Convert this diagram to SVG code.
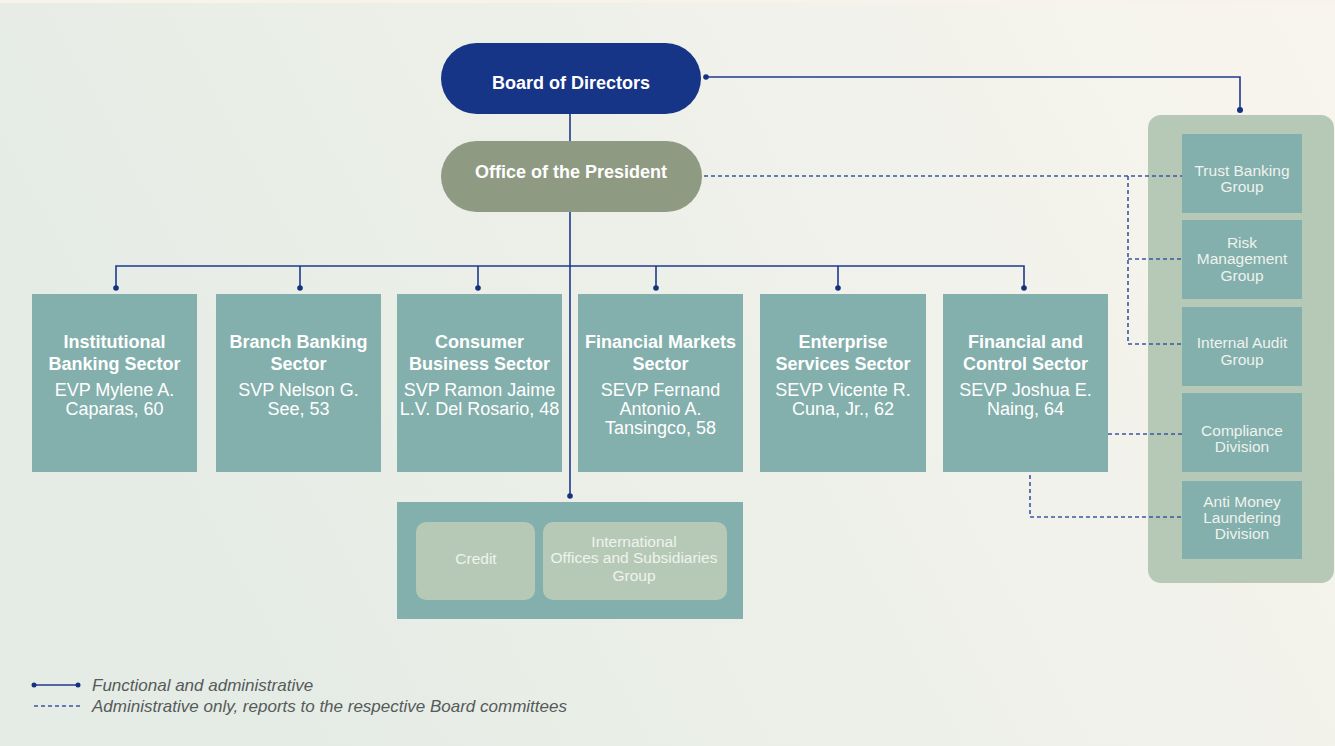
<svg xmlns="http://www.w3.org/2000/svg" width="1335" height="746" viewBox="0 0 1335 746">
<defs>
<linearGradient id="bg" x1="0" y1="0.3" x2="1" y2="0">
<stop offset="0" stop-color="#e5ece5"/>
<stop offset="0.55" stop-color="#eff1ea"/>
<stop offset="1" stop-color="#f8f5ee"/>
</linearGradient>
<style>
.sec{fill:#83afac}
.pan{fill:#b6c9b7}
.t{font-family:"Liberation Sans",Arial,sans-serif;fill:#ffffff;text-anchor:middle}
.b{font-weight:bold;font-size:18px}
.r{font-size:18px}
.s{font-size:15.5px;fill:#eef3ee}
.sol{fill:none;stroke:#1f3a8c;stroke-width:1.6}
.dsh{fill:none;stroke:#3b56a4;stroke-width:1.6;stroke-dasharray:4 3}
.dot{fill:#16327f}
.leg{font-family:"Liberation Sans",Arial,sans-serif;font-style:italic;font-size:17px;fill:#555a5a}
</style>
</defs>
<rect width="1335" height="746" fill="url(#bg)"/>
<rect x="0" y="0" width="1335" height="3" fill="#f7f3ea"/>

<g id="board">
<rect x="441" y="43" width="260" height="71" rx="35.5" fill="#163587"/>
<text class="t" x="571" y="88.5" font-weight="bold" font-size="18">Board of Directors</text>
</g>
<g id="president">
<rect x="441" y="141" width="261" height="71" rx="35.5" fill="#8f9a83"/>
<text class="t" x="571" y="178" font-weight="bold" font-size="18">Office of the President</text>
</g>

<g id="institutional">
<rect class="sec" x="32" y="294" width="165" height="178"/>
<text class="t b" x="114.5" y="348">Institutional</text>
<text class="t b" x="114.5" y="370">Banking Sector</text>
<text class="t r" x="114.5" y="396">EVP Mylene A.</text>
<text class="t r" x="114.5" y="415">Caparas, 60</text>
</g>
<g id="branch">
<rect class="sec" x="216" y="294" width="165" height="178"/>
<text class="t b" x="298.5" y="348">Branch Banking</text>
<text class="t b" x="298.5" y="370">Sector</text>
<text class="t r" x="298.5" y="396">SVP Nelson G.</text>
<text class="t r" x="298.5" y="415">See, 53</text>
</g>
<g id="consumer">
<rect class="sec" x="397" y="294" width="165" height="178"/>
<text class="t b" x="479.5" y="348">Consumer</text>
<text class="t b" x="479.5" y="370">Business Sector</text>
<text class="t r" x="479.5" y="396">SVP Ramon Jaime</text>
<text class="t r" x="479.5" y="415">L.V. Del Rosario, 48</text>
</g>
<g id="markets">
<rect class="sec" x="578" y="294" width="165" height="178"/>
<text class="t b" x="660.5" y="348">Financial Markets</text>
<text class="t b" x="660.5" y="370">Sector</text>
<text class="t r" x="660.5" y="396">SEVP Fernand</text>
<text class="t r" x="660.5" y="415">Antonio A.</text>
<text class="t r" x="660.5" y="434">Tansingco, 58</text>
</g>
<g id="enterprise">
<rect class="sec" x="760" y="294" width="166" height="178"/>
<text class="t b" x="843" y="348">Enterprise</text>
<text class="t b" x="843" y="370">Services Sector</text>
<text class="t r" x="843" y="396">SEVP Vicente R.</text>
<text class="t r" x="843" y="415">Cuna, Jr., 62</text>
</g>
<g id="control">
<rect class="sec" x="943" y="294" width="165" height="178"/>
<text class="t b" x="1025.5" y="348">Financial and</text>
<text class="t b" x="1025.5" y="370">Control Sector</text>
<text class="t r" x="1025.5" y="396">SEVP Joshua E.</text>
<text class="t r" x="1025.5" y="415">Naing, 64</text>
</g>

<g id="support">
<rect class="sec" x="397" y="502" width="346" height="117"/>
</g>
<g id="credit">
<rect class="pan" x="416" y="522" width="119" height="78" rx="10"/>
<text class="t s" x="476" y="564">Credit</text>
</g>
<g id="international">
<rect class="pan" x="543" y="522" width="184" height="78" rx="10"/>
<text class="t s" x="634" y="547">International</text>
<text class="t s" x="634" y="563">Offices and Subsidiaries</text>
<text class="t s" x="634" y="581">Group</text>
</g>

<g id="board-units">
<rect class="pan" x="1148" y="115" width="186" height="468" rx="13"/>
</g>
<g id="trust">
<rect class="sec" x="1182" y="134" width="120" height="79"/>
<text class="t s" x="1242" y="176">Trust Banking</text>
<text class="t s" x="1242" y="192">Group</text>
</g>
<g id="risk">
<rect class="sec" x="1182" y="220" width="120" height="79"/>
<text class="t s" x="1242" y="248">Risk</text>
<text class="t s" x="1242" y="264">Management</text>
<text class="t s" x="1242" y="281">Group</text>
</g>
<g id="audit">
<rect class="sec" x="1182" y="307" width="120" height="79"/>
<text class="t s" x="1242" y="348">Internal Audit</text>
<text class="t s" x="1242" y="365">Group</text>
</g>
<g id="compliance">
<rect class="sec" x="1182" y="393" width="120" height="79"/>
<text class="t s" x="1242" y="436">Compliance</text>
<text class="t s" x="1242" y="452">Division</text>
</g>
<g id="aml">
<rect class="sec" x="1182" y="481" width="120" height="78"/>
<text class="t s" x="1242" y="507">Anti Money</text>
<text class="t s" x="1242" y="523">Laundering</text>
<text class="t s" x="1242" y="539">Division</text>
</g>

<g id="connectors">
<path class="sol" d="M570 114V141M570 212V496"/>
<path class="sol" d="M116 288V266H1024V288M300 266V288M478 266V288M656 266V288M838 266V288"/>
<path class="sol" d="M706 77H1240V110"/>
<circle class="dot" cx="706" cy="77" r="2.8"/>
<circle class="dot" cx="1240" cy="110" r="3"/>
<circle class="dot" cx="116" cy="288" r="2.8"/>
<circle class="dot" cx="300" cy="288" r="2.8"/>
<circle class="dot" cx="478" cy="288" r="2.8"/>
<circle class="dot" cx="656" cy="288" r="2.8"/>
<circle class="dot" cx="838" cy="288" r="2.8"/>
<circle class="dot" cx="1024" cy="288" r="2.8"/>
<circle class="dot" cx="570" cy="496" r="2.8"/>
<path class="dsh" d="M704 176H1182M1128 176V344H1182M1128 259H1182"/>
<path class="dsh" d="M1108 434H1182"/>
<path class="dsh" d="M1030 475V517H1182"/>
</g>

<g id="legend">
<path class="sol" d="M34 685H78"/>
<circle class="dot" cx="34" cy="685" r="2.5"/>
<circle class="dot" cx="78" cy="685" r="2.5"/>
<text class="leg" x="92" y="691">Functional and administrative</text>
<path class="dsh" d="M34 706H80"/>
<text class="leg" x="92" y="712">Administrative only, reports to the respective Board committees</text>
</g>
</svg>
